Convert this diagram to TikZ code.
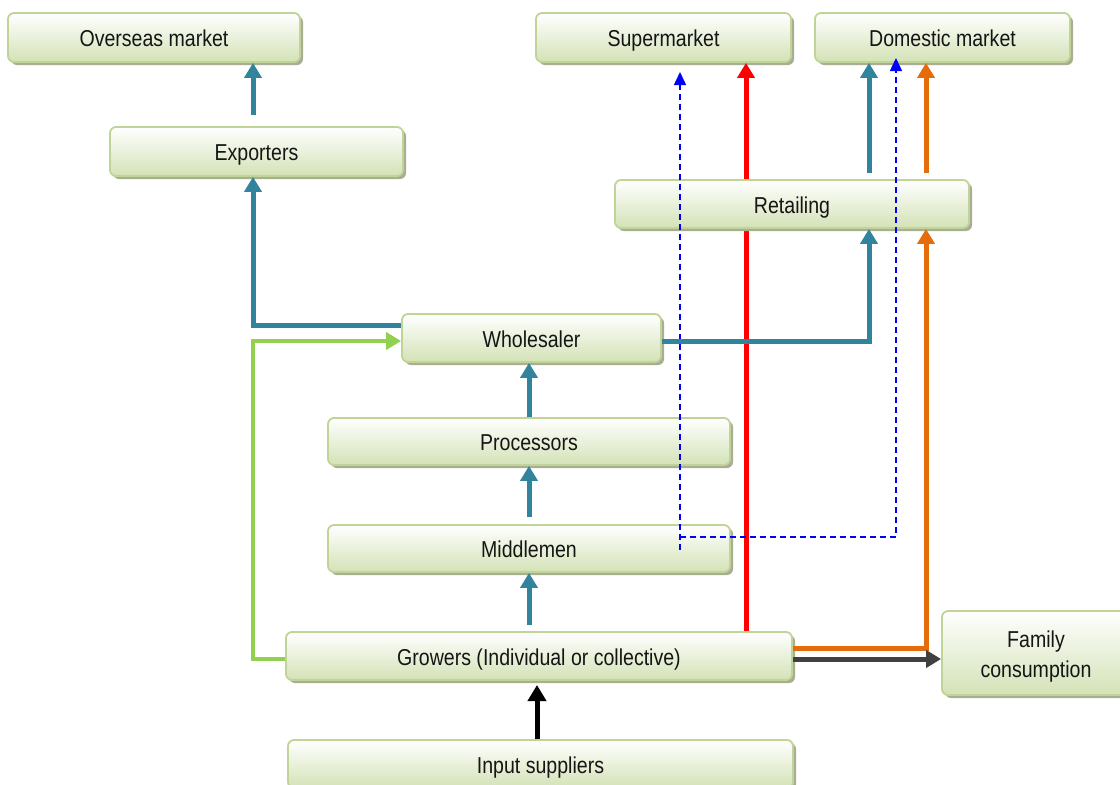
\documentclass[tikz,border=0pt]{standalone}
\usepackage{fontspec}
\setmainfont{Liberation Sans}[FakeStretch=0.85]
\usetikzlibrary{arrows.meta,shadows}
\definecolor{boxline}{HTML}{BFD496}
\definecolor{boxfill}{HTML}{D3E2B6}
\definecolor{shadowc}{HTML}{A8AD94}
\definecolor{textc}{HTML}{151515}
\definecolor{tealc}{HTML}{31849B}
\definecolor{greenc}{HTML}{92D050}
\definecolor{orangec}{HTML}{E46C0A}
\definecolor{redc}{HTML}{FF0000}
\definecolor{grayc}{HTML}{404040}
\definecolor{bluec}{HTML}{0000FF}
\begin{document}
\begin{tikzpicture}[x=1pt,y=-1pt,
  box/.style={draw=boxline, line width=1.8pt, rounded corners=6pt,
    top color=white, bottom color=boxfill,
    drop shadow={shadow xshift=3pt,shadow yshift=-3pt,fill=shadowc,opacity=1},
    text=textc, font=\fontsize{23}{30}\selectfont, inner sep=0pt, align=center,
    text height=18pt, text depth=0pt},
  flow/.style={line width=5pt, -{Triangle[width=17pt,length=15pt]}},
  flowblack/.style={line width=5pt, -{Triangle[width=18pt,length=16pt]}},
  dflow/.style={draw=bluec, line width=1.5pt, dash pattern=on 6pt off 4pt, -{Triangle[width=12pt,length=13pt]}}
]
\useasboundingbox (0,0) rectangle (1120,785);
\clip (0,0) rectangle (1120,785);
% nodes
\node[box, minimum width=292pt, minimum height=49pt] (ovs) at (154,37.5) {Overseas market};
\node[box, minimum width=255pt, minimum height=49pt] (sup) at (663.5,37.5) {Supermarket};
\node[box, minimum width=255pt, minimum height=49pt] (dom) at (942.5,37.5) {Domestic market};
\node[box, minimum width=293pt, minimum height=49pt] (exp) at (256.5,151.5) {Exporters};
\node[box, minimum width=259pt, minimum height=48pt] (who) at (531.5,338) {Wholesaler};
\node[box, minimum width=402pt, minimum height=47pt] (pro) at (529,441.5) {Processors};
\node[box, minimum width=402pt, minimum height=47pt] (mid) at (529,548.5) {Middlemen};
\node[box, minimum width=506pt, minimum height=48pt] (gro) at (539,656) {Growers (Individual or collective)};
\node[box, minimum width=188pt, minimum height=84pt, text height=48pt, text depth=0pt] (fam) at (1036,653) {Family\\consumption};
\node[box, minimum width=505pt, minimum height=48pt] (inp) at (540.5,764) {Input suppliers};
% red connector passes behind Retailing
\draw[flow, draw=redc, fill=redc] (746,0 |- gro.north) -- (746,0 |- sup.south);
\node[box, minimum width=354pt, minimum height=48pt] (ret) at (792,204) {Retailing};
% dashed connectors
\draw[dflow] (680,550) -- (680,72);
\draw[dflow] (680,537) -| (896,58);
% teal connectors
\draw[flow, draw=tealc] (253,115) -- (253,0 |- ovs.south);
\draw[flow, draw=tealc] (who.west |- 0,325) -| (253,0 |- exp.south);
\draw[flow, draw=tealc] (who.east |- 0,341) -| (869,0 |- ret.south);
\draw[flow, draw=tealc] (869,173) -- (869,0 |- dom.south);
\draw[flow, draw=tealc] (529,0 |- pro.north) -- (529,0 |- who.south);
\draw[flow, draw=tealc] (529,517) -- (529,0 |- pro.south);
\draw[flow, draw=tealc] (529,625) -- (529,0 |- mid.south);
% green
\draw[flow, draw=greenc, line width=4pt] (gro.west |- 0,659) -- (253,659) -- (253,341) -- (who.west |- 0,341);
% orange
\draw[flow, draw=orangec] (gro.east |- 0,648) -| (926,0 |- ret.south);
\draw[flow, draw=orangec] (926,173) -- (926,0 |- dom.south);
% gray to family
\draw[flow, draw=grayc] (gro.east |- 0,659) -- (fam.west |- 0,659);
% black from input suppliers
\draw[flowblack, draw=black] (537,0 |- inp.north) -- (537,685);
\end{tikzpicture}
\end{document}
